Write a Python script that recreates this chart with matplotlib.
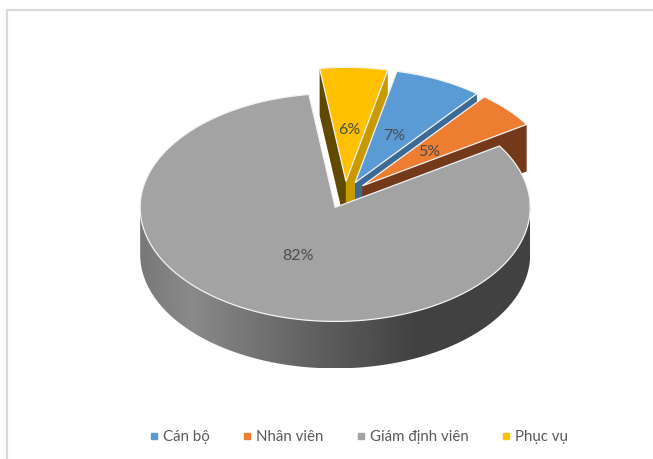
import numpy as np
import matplotlib
matplotlib.use("Agg")
import matplotlib.pyplot as plt
from matplotlib.patches import Polygon
from matplotlib.lines import Line2D

# Data
nhan = ["Cán bộ", "Nhân viên", "Giám định viên", "Phục vụ"]
nilai = [7.3, 5.2, 81.9, 5.6]
warna = ["#5b9bd5", "#ed7d31", "#a3a3a3", "#ffc000"]
warna_sisi = ["#3b6a94", "#74391a", "#6e6e6e", "#c99a00"]
warna_kiri_kuning = "#614a00"

# Geometri pie (piksel)
cx, cy = 345, 195
rx, ry = 195, 114
tebal = 47
ledak = 0.12
mulai = 12.4

plt.rcParams['font.family'] = ['Lato', 'Noto Sans', 'DejaVu Sans']
fig = plt.figure(figsize=(6.53, 4.59), dpi=100)
ax = fig.add_axes([0, 0, 1, 1])
ax.axis("off")

# Bingkai
ax.plot([7, 7, 653], [459, 10, 10], color="#d9d9d9", lw=1.6, zorder=1)


def titik(x0, y0, sudut):
    a = np.radians(sudut)
    return x0 + rx * np.sin(a), y0 - ry * np.cos(a)


# Hitung sudut tiap irisan dari nilai
total = sum(nilai)
irisan = []
s = mulai
for i, v in enumerate(nilai):
    lebar = 360 * v / total
    tengah = s + lebar / 2
    a = np.radians(tengah)
    x0 = cx + ledak * rx * np.sin(a)
    y0 = cy - ledak * ry * np.cos(a)
    irisan.append((i, s, s + lebar, tengah, x0, y0))
    s += lebar

urutan = [3, 0, 1, 2]
z = 2
for i in urutan:
    _, a0, a1, tengah, x0, y0 = irisan[i]
    sudut = np.linspace(a0, a1, 300)
    busur = np.array([titik(x0, y0, t) for t in sudut])

    # Dinding potongan
    for sisi, warna_w in [(a0, warna_sisi[i]), (a1, warna_sisi[i])]:
        if i == 3 and sisi == a0:
            warna_w = warna_kiri_kuning
        px, py = titik(x0, y0, sisi)
        ax.add_patch(Polygon([(x0, y0), (px, py), (px, py + tebal), (x0, y0 + tebal)],
                             closed=True, fc=warna_w, ec="none", zorder=z))

    # Dinding luar dengan gradasi
    if i == 2:
        depan = np.linspace(90, 270, 361)
        bawah = np.array([titik(x0, y0 + tebal, t) for t in depan])
        atas_d = np.array([titik(x0, y0, t) for t in depan[::-1]])
        bentuk = Polygon(np.vstack([bawah, atas_d]), closed=True, fc="none", ec="none",
                         transform=ax.transData)
        ax.add_patch(bentuk)
        xg = np.linspace(0, 1, 400)
        abu = np.interp(xg, [0.0, 0.13, 0.40, 0.70, 1.0], [0.47, 0.54, 0.40, 0.26, 0.26])
        gambar = ax.imshow(abu[None, :], cmap="gray", vmin=0, vmax=1, aspect="auto",
                           extent=[x0 - rx, x0 + rx, y0 + ry + tebal, y0 - 10],
                           zorder=z)
        gambar.set_clip_path(bentuk)

    # Permukaan atas
    atas = np.vstack([[x0, y0], busur])
    ax.add_patch(Polygon(atas, closed=True, fc=warna[i], ec="#f2f2f2", lw=0.9, zorder=z + 1))
    z += 2

# Label persen
for i, a0, a1, tengah, x0, y0 in irisan:
    lx = x0 + 0.46 * rx * np.sin(np.radians(tengah))
    ly = y0 - 0.46 * ry * np.cos(np.radians(tengah)) + 1
    ax.text(lx, ly, f"{nilai[i]:.0f}%", ha="center", va="center",
            fontsize=11.5, color="#4d4d4d", zorder=20)

ax.set_xlim(0, 653)
ax.set_ylim(459, 0)

# Legenda
gagang = [Line2D([], [], ls="none", marker="s", ms=4.2, color=w) for w in warna]
ax.legend(gagang, nhan, loc="center", bbox_to_anchor=(357 / 653, 1 - 437 / 459),
          ncol=4, frameon=False, fontsize=10.8, labelcolor="#595959",
          handletextpad=0.1, columnspacing=2.0, handlelength=1.0)

fig.savefig("out.png", dpi=100)
